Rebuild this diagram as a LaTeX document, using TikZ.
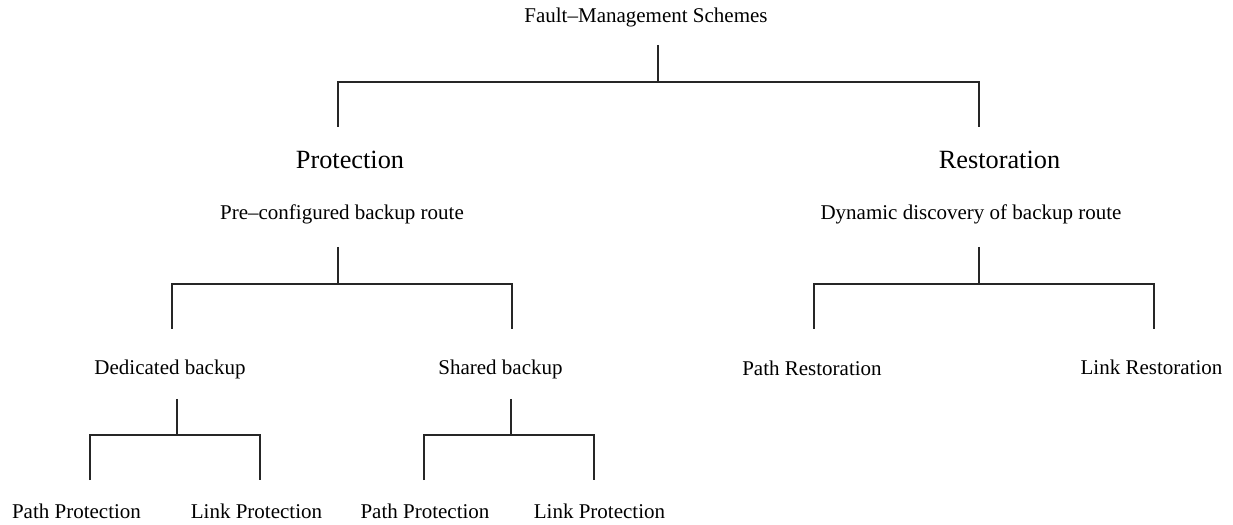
\documentclass[tikz,border=0pt]{standalone}
\usepackage{fontspec}
\setmainfont{Liberation Serif}
\begin{document}
\begin{tikzpicture}[x=1bp,y=-1bp,
  lbl/.style={inner sep=0pt, anchor=base, font=\fontsize{21bp}{25bp}\selectfont},
  big/.style={inner sep=0pt, anchor=base, font=\fontsize{26.3bp}{31bp}\selectfont},
  conn/.style={draw=black!85, line width=1.2bp}]
\useasboundingbox (0,0) rectangle (1233,525);
% nodes
\node[lbl] (fms) at (646,23) {Fault–Management Schemes};
\node[big] (prot) at (350,169) {Protection};
\node[big] (rest) at (999.5,169) {Restoration};
\node[lbl] (pre) at (342,220) {Pre–configured backup route};
\node[lbl] (dyn) at (971,220) {Dynamic discovery of backup route};
\node[lbl] (ded) at (170,375) {Dedicated backup};
\node[lbl] (sha) at (500.5,375) {Shared backup};
\node[lbl] (pres) at (812,376) {Path Restoration};
\node[lbl] (lres) at (1151.5,375) {Link Restoration};
\node[lbl] (pp1) at (76.5,518) {Path Protection};
\node[lbl] (lp1) at (256.5,518) {Link Protection};
\node[lbl] (pp2) at (425,518) {Path Protection};
\node[lbl] (lp2) at (599.5,518) {Link Protection};
% connector points
\coordinate (t0) at (658,45);  \coordinate (j0) at (658,82);
\coordinate (l0a) at (338,127); \coordinate (l0b) at (979,127);
\coordinate (t1) at (338,247); \coordinate (j1) at (338,284);
\coordinate (l1a) at (172,329); \coordinate (l1b) at (512,329);
\coordinate (t2) at (979,247); \coordinate (j2) at (979,284);
\coordinate (l2a) at (814,329); \coordinate (l2b) at (1154,329);
\coordinate (t3) at (177,399); \coordinate (j3) at (177,435);
\coordinate (l3a) at (90,480); \coordinate (l3b) at (260,480);
\coordinate (t4) at (511,399); \coordinate (j4) at (511,435);
\coordinate (l4a) at (424,480); \coordinate (l4b) at (594,480);
% connectors
\draw[conn] (t0) -- (j0);  \draw[conn] (l0a) |- (j0) -| (l0b);
\draw[conn] (t1) -- (j1);  \draw[conn] (l1a) |- (j1) -| (l1b);
\draw[conn] (t2) -- (j2);  \draw[conn] (l2a) |- (j2) -| (l2b);
\draw[conn] (t3) -- (j3);  \draw[conn] (l3a) |- (j3) -| (l3b);
\draw[conn] (t4) -- (j4);  \draw[conn] (l4a) |- (j4) -| (l4b);
\end{tikzpicture}
\end{document}
